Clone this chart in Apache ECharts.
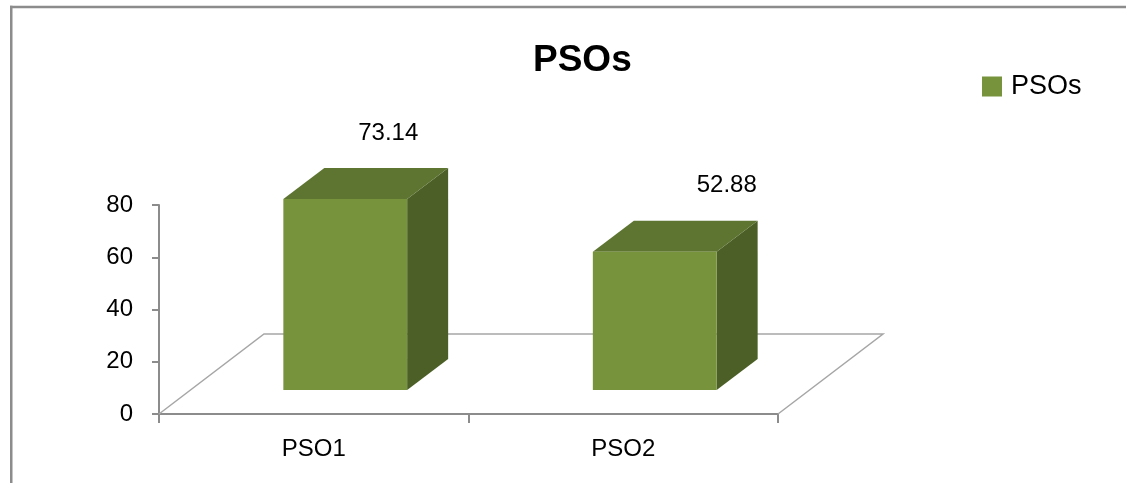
<!DOCTYPE html>
<html>
<head>
<meta charset="utf-8">
<script src="https://cdn.jsdelivr.net/npm/echarts@6/dist/echarts.min.js"></script>
<style>
html,body{margin:0;padding:0;background:#fff;overflow:hidden;}
#chart{width:1126px;height:483px;}
</style>
</head>
<body>
<div id="chart"></div>
<script>
// ---- data ----
const categories = ['PSO1', 'PSO2'];
const seriesName = 'PSOs';
const values = [73.14, 52.88];
const yMin = 0, yMax = 80, yInterval = 20;

// ---- style constants (pixels) ----
const FLOOR_DX = 105, FLOOR_DY = 80;      // depth of the floor
const BAR_FRONT = 0.3;                    // front of bar as fraction of floor depth
const BAR_DX = 41, BAR_DY = 31;           // depth of each bar
const BAR_WIDTH_RATIO = 0.4;
const LABEL_SHIFT_X = [2, 31];
const LABEL_GAP = 35;
const FONT = '"Liberation Sans", Arial, sans-serif';
const COL_FRONT = '#77933C', COL_TOP = '#5E7431', COL_SIDE = '#4B5F27';
const AXIS_COL = '#8c8c8c';

const chart = echarts.init(document.getElementById('chart'));

function renderFloor(params, api) {
  const cs = params.coordSys;
  const x0 = cs.x, x1 = cs.x + cs.width, y0 = cs.y + cs.height;
  const pts = [[x0, y0], [x0 + FLOOR_DX, y0 - FLOOR_DY], [x1 + FLOOR_DX, y0 - FLOOR_DY], [x1, y0]];
  return {
    type: 'polyline',
    shape: { points: pts },
    style: { stroke: '#a6a6a6', lineWidth: 1.5, fill: null }
  };
}

function renderBar(params, api) {
  const i = api.value(0);
  const v = api.value(1);
  const base = api.coord([i, 0]);
  const top = api.coord([i, v]);
  const bw = api.size([1, 0])[0];
  const h = base[1] - top[1];
  const ox = FLOOR_DX * BAR_FRONT, oy = FLOOR_DY * BAR_FRONT;
  const l = base[0] - bw * BAR_WIDTH_RATIO / 2 + ox;
  const r = base[0] + bw * BAR_WIDTH_RATIO / 2 + ox;
  const b = base[1] - oy;
  const t = b - h;
  const front = [[l, t], [r, t], [r, b], [l, b]];
  const topFace = [[l, t], [l + BAR_DX, t - BAR_DY], [r + BAR_DX, t - BAR_DY], [r, t]];
  const side = [[r, t], [r + BAR_DX, t - BAR_DY], [r + BAR_DX, b - BAR_DY], [r, b]];
  const lx = (l + r) / 2 + BAR_DX + LABEL_SHIFT_X[params.dataIndex];
  const ly = t - BAR_DY - LABEL_GAP;
  return {
    type: 'group',
    children: [
      { type: 'polygon', shape: { points: side }, style: { fill: COL_SIDE } },
      { type: 'polygon', shape: { points: topFace }, style: { fill: COL_TOP } },
      { type: 'polygon', shape: { points: front }, style: { fill: COL_FRONT } },
      {
        type: 'text',
        style: {
          x: lx, y: ly, text: String(values[params.dataIndex].toFixed(2)),
          align: 'center', verticalAlign: 'middle',
          fill: '#000', font: '24px ' + FONT
        }
      }
    ]
  };
}

const option = {
  backgroundColor: '#fff',
  animation: false,
  title: {
    text: 'PSOs',
    left: 528, top: 37,
    textStyle: { fontFamily: FONT, fontSize: 37, fontWeight: 'bold', color: '#000' }
  },
  legend: {
    data: [seriesName],
    left: 977, top: 68,
    itemWidth: 20, itemHeight: 20,
    icon: 'rect',
    textStyle: { fontFamily: FONT, fontSize: 27, color: '#000', padding: [0, 0, 0, 4] }
  },
  graphic: [
    {
      type: 'line',
      shape: { x1: 11.25, y1: 5.75, x2: 11.25, y2: 490 },
      style: { stroke: AXIS_COL, lineWidth: 2.5 },
      silent: true
    },
    {
      type: 'line',
      shape: { x1: 10, y1: 7, x2: 1126, y2: 7 },
      style: { stroke: AXIS_COL, lineWidth: 2.5 },
      silent: true
    }
  ],
  grid: { left: 159, top: 205, width: 619, height: 209 },
  xAxis: {
    type: 'category',
    data: categories,
    boundaryGap: true,
    axisLine: { lineStyle: { color: AXIS_COL, width: 2 } },
    axisTick: { show: true, length: 9, lineStyle: { color: AXIS_COL, width: 2 } },
    axisLabel: { fontFamily: FONT, fontSize: 24, color: '#000', margin: 23 },
    splitLine: { show: false }
  },
  yAxis: {
    type: 'value',
    min: yMin, max: yMax, interval: yInterval,
    axisLine: { show: true, lineStyle: { color: AXIS_COL, width: 2 } },
    axisTick: { show: true, length: 7, lineStyle: { color: AXIS_COL, width: 2 } },
    axisLabel: { fontFamily: FONT, fontSize: 24, color: '#000', margin: 26 },
    splitLine: { show: false }
  },
  series: [
    {
      type: 'custom',
      name: 'floor',
      renderItem: renderFloor,
      data: [[0, 0]],
      z: 1,
      silent: true,
      clip: false
    },
    {
      type: 'custom',
      name: seriesName,
      renderItem: renderBar,
      data: values.map((v, i) => [i, v]),
      encode: { x: 0, y: 1 },
      itemStyle: { color: COL_FRONT },
      z: 2,
      clip: false
    }
  ]
};
chart.setOption(option);
</script>
</body>
</html>
